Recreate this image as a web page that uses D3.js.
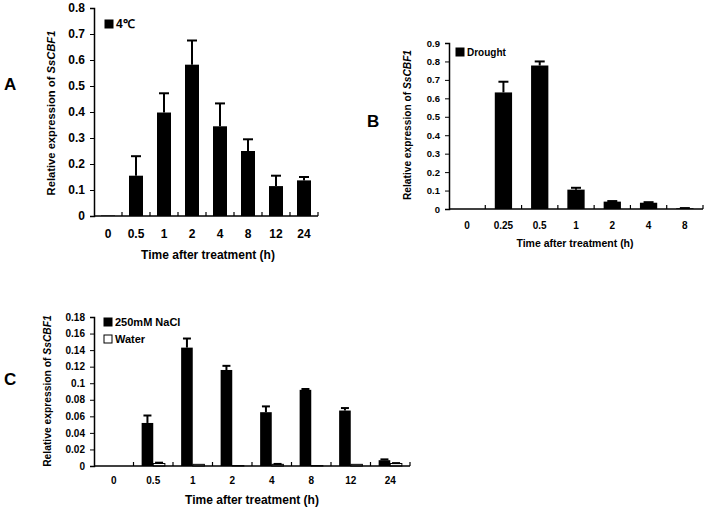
<!DOCTYPE html>
<html>
<head>
<meta charset="utf-8">
<script src="https://cdn.jsdelivr.net/npm/d3@7"></script>
<style>
  body { margin: 0; background: #fff; }
  svg { font-family: "Liberation Sans", Arial, sans-serif; font-weight: bold; }
</style>
</head>
<body>
<svg id="fig" width="706" height="509"></svg>
<script>
// panel A - 4 degrees
var timesA = ["0", "0.5", "1", "2", "4", "8", "12", "24"];
var valuesA = [0.002, 0.155, 0.398, 0.582, 0.345, 0.250, 0.115, 0.137];
var errorsA = [0, 0.075, 0.074, 0.093, 0.088, 0.045, 0.040, 0.013];
var ticksA = [0, 0.1, 0.2, 0.3, 0.4, 0.5, 0.6, 0.7, 0.8];

// panel B - drought
var timesB = ["0", "0.25", "0.5", "1", "2", "4", "8"];
var valuesB = [0, 0.632, 0.778, 0.105, 0.040, 0.034, 0.004];
var errorsB = [0, 0.058, 0.022, 0.010, 0.003, 0.003, 0.001];
var ticksB = [0, 0.1, 0.2, 0.3, 0.4, 0.5, 0.6, 0.7, 0.8, 0.9];

// panel C - salt vs water
var timesC = ["0", "0.5", "1", "2", "4", "8", "12", "24"];
var naclC = [0, 0.052, 0.143, 0.116, 0.065, 0.092, 0.067, 0.007];
var naclErrC = [0, 0.009, 0.011, 0.005, 0.007, 0.001, 0.003, 0.001];
var waterC = [0, 0.003, 0.002, 0.0005, 0.002, 0.0005, 0.002, 0.003];
var waterErrC = [0, 0.001, 0, 0, 0.0005, 0, 0, 0.0005];
var ticksC = [0, 0.02, 0.04, 0.06, 0.08, 0.1, 0.12, 0.14, 0.16, 0.18];

var svg = d3.select("#fig");

function drawPanel(p) {
  var g = svg.append("g");
  var x = d3.scaleBand().domain(p.cats).range([p.x0, p.x1]);
  var y = d3.scaleLinear().domain([0, p.ymax]).range([p.y0, p.y1]);
  var inner = d3.scaleBand().domain(d3.range(p.series.length))
    .range([0, x.bandwidth()]).paddingInner(0).paddingOuter(p.outerPad);

  // bars
  p.series.forEach(function(s, si) {
    var bx = function(d, i) { return x(p.cats[i]) + inner(si); };
    g.selectAll(null).data(s.values).enter().append("rect")
      .attr("x", bx)
      .attr("y", function(d) { return y(d); })
      .attr("width", inner.bandwidth())
      .attr("height", function(d) { return p.y0 - y(d); })
      .attr("fill", s.fill)
      .attr("stroke", "#000").attr("stroke-width", s.fill == "#fff" ? 1 : 0);
    // error bars
    s.values.forEach(function(d, i) {
      var e = s.errors[i];
      if (!e) return;
      var cx = bx(d, i) + inner.bandwidth() / 2;
      g.append("line").attr("x1", cx).attr("x2", cx)
        .attr("y1", y(d)).attr("y2", y(d + e))
        .attr("stroke", "#000").attr("stroke-width", 2);
      g.append("line").attr("x1", cx - p.cap / 2).attr("x2", cx + p.cap / 2)
        .attr("y1", y(d + e)).attr("y2", y(d + e))
        .attr("stroke", "#000").attr("stroke-width", 2);
    });
  });

  // y axis
  var ya = g.append("g").attr("transform", "translate(" + p.x0 + ",0)")
    .call(d3.axisLeft(y).tickValues(p.ticks).tickSize(4).tickPadding(p.tickPad)
      .tickFormat(function(d) { return d3.format("")(+d.toFixed(2)); }));
  ya.select(".domain").attr("stroke-width", 1.5);
  ya.selectAll("text").attr("font-size", p.yts).attr("font-weight", "bold");

  // x axis with ticks between categories
  g.append("line").attr("x1", p.x0).attr("x2", p.x1)
    .attr("y1", p.y0).attr("y2", p.y0).attr("stroke", "#000").attr("stroke-width", 1.5);
  p.cats.forEach(function(c, i) {
    var tx = x(c) + x.bandwidth();
    g.append("line").attr("x1", tx).attr("x2", tx)
      .attr("y1", p.y0).attr("y2", p.y0 - 4).attr("stroke", "#000").attr("stroke-width", 1.2);
  });
  g.selectAll(null).data(p.cats).enter().append("text")
    .attr("x", function(d) { return x(d) + x.bandwidth() / 2; })
    .attr("y", p.catY)
    .attr("text-anchor", "middle").attr("font-size", p.fs)
    .text(function(d) { return d; });

  // titles
  g.append("text").attr("x", p.xtX).attr("y", p.xtY).attr("text-anchor", "middle")
    .attr("font-size", p.tfs).text("Time after treatment (h)");
  var yl = g.append("text").attr("text-anchor", "middle").attr("font-size", p.yfs)
    .attr("transform", "translate(" + p.ylX + "," + p.ylY + ") rotate(-90)");
  yl.append("tspan").text("Relative expression of ");
  yl.append("tspan").attr("font-style", "italic").text("SsCBF1");
  g.append("text").attr("x", p.lbX).attr("y", p.lbY).attr("font-size", 17)
    .text(p.label);

  // legend
  p.series.forEach(function(s, si) {
    var ly = p.legY + si * p.legGap;
    g.append("rect").attr("x", p.legX).attr("y", ly - 4)
      .attr("width", 8).attr("height", 8)
      .attr("fill", s.fill).attr("stroke", "#000").attr("stroke-width", 1);
    g.append("text").attr("x", p.legX + 11).attr("y", ly + 4)
      .attr("font-size", p.lfs).text(s.name);
  });
}

drawPanel({
  cats: timesA, ymax: 0.8, ticks: ticksA,
  series: [{ name: "4\u2103", values: valuesA, errors: errorsA, fill: "#000" }],
  x0: 94, x1: 318, y0: 216, y1: 8, outerPad: 0.5, cap: 10, tickPad: 5,
  fs: 12, yts: 12, tfs: 12, yfs: 11.2, lfs: 12, catY: 238,
  xtX: 208, xtY: 259, ylX: 55, ylY: 113, lbX: 4, lbY: 90, label: "A",
  legX: 105, legY: 24, legGap: 17
});

drawPanel({
  cats: timesB, ymax: 0.9, ticks: ticksB,
  series: [{ name: "Drought", values: valuesB, errors: errorsB, fill: "#000" }],
  x0: 449, x1: 703, y0: 209, y1: 43, outerPad: 0.55, cap: 10, tickPad: 5,
  fs: 10, yts: 9.5, tfs: 10.5, yfs: 10.2, lfs: 10, catY: 229,
  xtX: 575, xtY: 247, ylX: 411, ylY: 125, lbX: 367, lbY: 127, label: "B",
  legX: 456, legY: 52, legGap: 17
});

drawPanel({
  cats: timesC, ymax: 0.18, ticks: ticksC,
  series: [
    { name: "250mM NaCl", values: naclC, errors: naclErrC, fill: "#000" },
    { name: "Water", values: waterC, errors: waterErrC, fill: "#fff" }
  ],
  x0: 94, x1: 410, y0: 466, y1: 317, outerPad: 0.7, cap: 8, tickPad: 5,
  fs: 10, yts: 10, tfs: 12, yfs: 10.3, lfs: 11, catY: 484,
  xtX: 252, xtY: 504, ylX: 51, ylY: 391, lbX: 4, lbY: 385, label: "C",
  legX: 104, legY: 322, legGap: 17
});
</script>
</body>
</html>
